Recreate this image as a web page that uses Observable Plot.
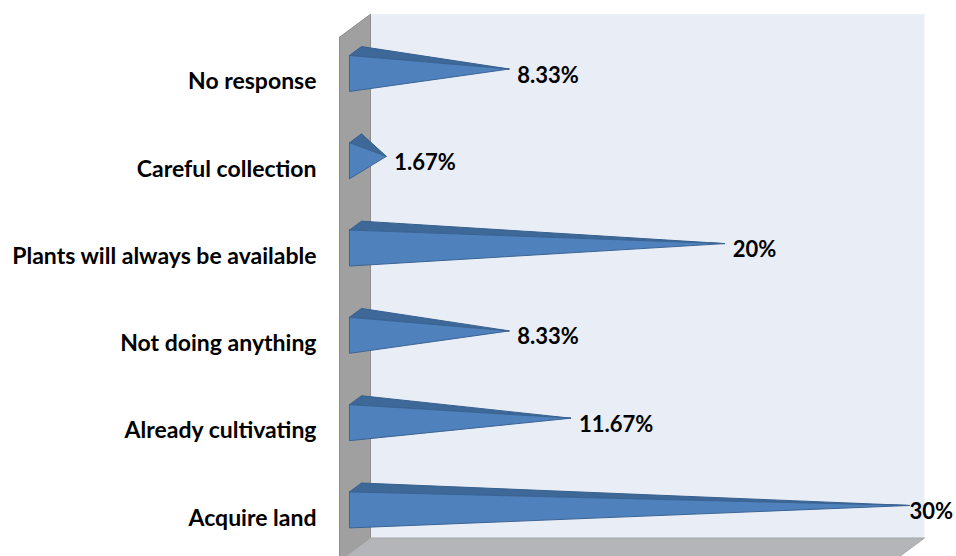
<!DOCTYPE html>
<html><head><meta charset="utf-8">
<script src="https://cdn.jsdelivr.net/npm/d3@7"></script>
<script src="https://cdn.jsdelivr.net/npm/@observablehq/plot@0.6"></script>
<style>html,body{margin:0;padding:0;background:#fff;overflow:hidden;}</style>
</head><body><div id="chart"></div>
<script>
// ---- data ----
const categories = ["No response", "Careful collection", "Plants will always be available", "Not doing anything", "Already cultivating", "Acquire land"];
const values = [8.33, 1.67, 20, 8.33, 11.67, 30];
const valueLabels = ["8.33%", "1.67%", "20%", "8.33%", "11.67%", "30%"];
const xMax = 30;

// ---- layout of the 3-D box (front plane, pixels) ----
const W = 956, H = 556;
const X0 = 339, X1 = 893, Y0 = 36.75, Y1 = 560.5;
const DEPTH_PX = [31, -23];
const pxPerX = (X1 - X0) / xMax;
const pxPerY = (Y1 - Y0) / categories.length;
const dep = f => [f * DEPTH_PX[0] / pxPerX, f * DEPTH_PX[1] / pxPerY];
const at = (x, y, f) => { const [a, b] = dep(f); return {x: x + a, y: y + b}; };

const n = categories.length;
const yTop = -0.5, yBot = n - 0.5;

function poly(id, pts) { return pts.concat([pts[0]]).map(p => ({id, ...p})); }

const backWall = poly("back", [at(0, yTop, 1), at(xMax, yTop, 1), at(xMax, yBot, 1), at(0, yBot, 1)]);
const leftWall = poly("left", [at(0, yTop, 0), at(0, yTop, 1), at(0, yBot, 1), at(0, yBot, 0)]);
const floor = poly("floor", [at(0, yBot, 0), at(xMax, yBot, 0), at(xMax, yBot, 1), at(0, yBot, 1)]);

const f1 = 10 / 31, f2 = 22 / 31, fm = (f1 + f2) / 2, h = 18 / pxPerY;
const fronts = [], tops = [];
values.forEach((v, i) => {
  const apex = at(v, i, fm);
  fronts.push(...poly("f" + i, [at(0, i - h, f1), apex, at(0, i + h, f1)]));
  tops.push(...poly("t" + i, [at(0, i - h, f1), at(0, i - h, f2), apex]));
});

const labelData = values.map((v, i) => ({...at(v, i + 6.5 / pxPerY, fm), label: valueLabels[i], v}));
const catData = categories.map((c, i) => ({x: 0, y: i + 1 / pxPerY, label: c}));
const vmax = d3.max(values);

const catFont = {fontFamily: "Lato, 'Open Sans', sans-serif", fontWeight: "bold", fontSize: 23, fill: "#000"};
const valFont = {fontFamily: "Lato, 'Open Sans', sans-serif", fontWeight: "bold", fontSize: 22, fill: "#000"};

const chart = Plot.plot({
  width: W, height: H,
  margin: 0,
  x: {domain: [0, xMax], range: [X0, X1], axis: null},
  y: {domain: [yTop, yBot], range: [Y0, Y1], axis: null},
  style: {fontFamily: "Lato, sans-serif", background: "#fff", overflow: "hidden"},
  marks: [
    Plot.line(backWall, {x: "x", y: "y", z: "id", fill: "#e9edf5", stroke: "none"}),
    Plot.line(leftWall, {x: "x", y: "y", z: "id", fill: "#a0a0a0", stroke: "#8c8c8c", strokeWidth: 1}),
    Plot.line(floor, {x: "x", y: "y", z: "id", fill: "#b3b5b8", stroke: "#a4a6a9", strokeWidth: 1}),
    Plot.line(tops, {x: "x", y: "y", z: "id", fill: "#3d6898", stroke: "#36608f", strokeWidth: 1, strokeLinejoin: "round"}),
    Plot.line(fronts, {x: "x", y: "y", z: "id", fill: "#4f81bd", stroke: "#3a6494", strokeWidth: 1, strokeLinejoin: "round"}),
    Plot.text(labelData.filter(d => d.v < vmax), {x: "x", y: "y", text: "label", textAnchor: "start", dx: 8, ...valFont}),
    Plot.text(labelData.filter(d => d.v === vmax), {x: "x", y: "y", text: "label", textAnchor: "start", dx: 0, ...valFont}),
    Plot.text(catData, {x: "x", y: "y", text: "label", textAnchor: "end", dx: -23, ...catFont})
  ]
});
document.getElementById("chart").appendChild(chart);
</script>
</body></html>
